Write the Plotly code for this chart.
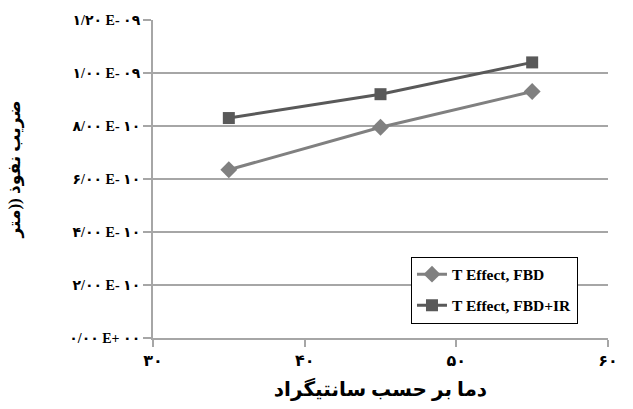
import plotly.graph_objects as go

# Temperature (°C) and diffusion coefficient values
temperature = [35, 45, 55]
fbd = [6.35e-10, 7.95e-10, 9.3e-10]
fbd_ir = [8.3e-10, 9.2e-10, 1.04e-9]

series_names = ["T Effect, FBD", "T Effect, FBD+IR"]

x_tick_vals = [30, 40, 50, 60]
x_tick_text = ["۳۰", "۴۰", "۵۰", "۶۰"]
y_tick_vals = [0, 2e-10, 4e-10, 6e-10, 8e-10, 1.0e-9, 1.2e-9]
y_tick_text = ["۰/۰۰ E+ ۰۰", "۲/۰۰ E- ۱۰", "۴/۰۰ E- ۱۰", "۶/۰۰ E- ۱۰",
               "۸/۰۰ E- ۱۰", "۱/۰۰ E- ۰۹", "۱/۲۰ E- ۰۹"]

x_title = "دما بر حسب سانتیگراد"
y_title = "ضریب نفوذ ((متر"

FONT = "Liberation Serif, Times New Roman, DejaVu Sans, serif"
AXIS_GRAY = "#a6a6a6"

fig = go.Figure()
fig.add_trace(go.Scatter(
    x=temperature, y=fbd, name=series_names[0], mode="lines+markers",
    legendgroup="a",
    line=dict(color="#808080", width=3),
    marker=dict(symbol="diamond", size=13, color="#808080"),
))
fig.add_trace(go.Scatter(
    x=temperature, y=fbd_ir, name=series_names[1], mode="lines+markers",
    legendgroup="b",
    line=dict(color="#595959", width=3),
    marker=dict(symbol="square", size=12, color="#595959"),
))

fig.update_layout(
    width=633, height=409,
    margin=dict(l=153, r=25, t=20, b=69),
    paper_bgcolor="white", plot_bgcolor="white",
    font=dict(family=FONT, color="black", size=13),
    showlegend=True,
    legend=dict(
        x=0.567, y=0.256, xanchor="left", yanchor="top",
        bordercolor="black", borderwidth=1, bgcolor="white",
        font=dict(family=FONT, size=15.5, color="black", weight="bold"),
        itemwidth=30, tracegroupgap=8,
    ),
    xaxis=dict(
        range=[30, 60], tickvals=x_tick_vals, ticktext=x_tick_text,
        showgrid=False, zeroline=False,
        showline=True, linecolor=AXIS_GRAY, linewidth=2,
        ticks="outside", ticklen=7, tickcolor=AXIS_GRAY, tickwidth=2,
        tickfont=dict(family=FONT, size=16, weight="bold"),
        title=dict(text=x_title, font=dict(family=FONT, size=20, weight="bold"),
                   standoff=14),
    ),
    yaxis=dict(
        range=[0, 1.2e-9], tickvals=y_tick_vals, ticktext=y_tick_text,
        showgrid=True, gridcolor=AXIS_GRAY, gridwidth=1.5,
        zeroline=False,
        showline=True, linecolor=AXIS_GRAY, linewidth=2,
        ticks="outside", ticklen=8, tickcolor=AXIS_GRAY, tickwidth=2,
        tickfont=dict(family=FONT, size=14, weight="bold"),
    ),
    annotations=[dict(
        text=y_title, xref="paper", yref="paper", x=-0.303, y=0.53,
        xanchor="center", yanchor="middle", textangle=-90, showarrow=False,
        font=dict(family=FONT, size=17, weight="bold"),
    )],
)

fig.write_html("out.html")
